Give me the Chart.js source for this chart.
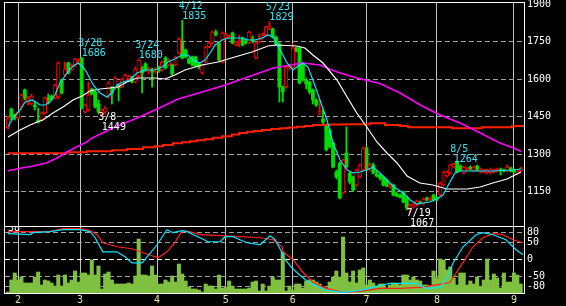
<!DOCTYPE html>
<html>
<head>
<meta charset="utf-8">
<script src="https://cdn.jsdelivr.net/npm/chart.js@4.4.1/dist/chart.umd.min.js"></script>
<style>
  html, body { margin: 0; padding: 0; background: #000; }
  #wrap { position: relative; width: 566px; height: 306px; overflow: hidden; background: #000; }
  #main { position: absolute; left: 0; top: 0; z-index: 2; }
  #sub { position: absolute; left: 0; top: 226px; z-index: 1; }
</style>
</head>
<body>
<div id="wrap">
  <canvas id="sub" width="566" height="80"></canvas>
  <canvas id="main" width="566" height="232"></canvas>
</div>
<script>
// month gridlines (trading-day index) and their labels
const monthStarts = [3, 21.5, 44.5, 65, 85, 107, 128, 151];
const monthLabels = ['2', '3', '4', '5', '6', '7', '8', '9'];
const priceTicks = [1150, 1300, 1450, 1600, 1750, 1900];
const rciTicks = [-80, -50, 0, 50, 80];

// daily candles
const opens = [1404,1480,1456,1444,1488,1556,1504,1500,1496,1436, 1436,1464,1524,1532,1524,1528,1596,1616,1664,1636,
  1656,1668,1684,1468,1476,1560,1548,1500,1456,1468, 1528,1564,1564,1576,1568,1588,1600,1608,1588,1612,
  1640,1660,1628,1636,1628,1648,1636,1684,1656,1656, 1656,1704,1748,1716,1680,1688,1688,1660,1624,1668,
  1728,1744,1788,1744,1668,1764,1764,1784,1736,1744, 1764,1752,1744,1760,1684,1748,1764,1776,1800,1800,
  1768,1740,1568,1568,1644,1648,1724,1724,1660,1596, 1588,1556,1516,1460,1440,1416,1396,1344,1228,1264,
  1144,1304,1224,1208,1176,1208,1236,1324,1236,1256, 1220,1216,1208,1196,1168,1176,1140,1136,1148,1124,
  1076,1088,1096,1108,1100,1124,1116,1136,1124,1136, 1176,1212,1224,1248,1268,1252,1224,1236,1248,1232,
  1252,1228,1228,1224,1224,1228,1232,1240,1236,1232, 1244,1236,1220,1232];
const highs = [1452,1484,1460,1472,1540,1560,1530,1540,1510,1484, 1468,1528,1540,1536,1580,1668,1600,1668,1668,1660,
  1684,1682,1686,1500,1588,1564,1552,1516,1480,1490, 1590,1570,1610,1580,1604,1620,1616,1612,1648,1680,
  1650,1666,1648,1644,1646,1652,1672,1690,1680,1660, 1692,1764,1835,1720,1684,1692,1692,1664,1660,1732,
  1750,1792,1796,1748,1788,1784,1776,1788,1752,1776, 1768,1760,1792,1772,1748,1780,1784,1812,1829,1804,
  1772,1748,1572,1652,1660,1740,1728,1728,1664,1604, 1592,1560,1520,1520,1480,1420,1400,1348,1236,1268,
  1280,1408,1228,1212,1240,1260,1328,1328,1264,1264, 1232,1220,1212,1200,1184,1180,1148,1140,1152,1128,
  1100,1104,1116,1112,1124,1128,1128,1140,1128,1188, 1232,1232,1260,1264,1272,1256,1252,1248,1252,1252,
  1256,1244,1240,1240,1244,1240,1244,1244,1240,1256, 1248,1240,1236,1248];
const lows = [1400,1436,1436,1440,1484,1516,1496,1496,1476,1424, 1432,1460,1500,1516,1520,1520,1540,1612,1620,1632,
  1650,1660,1480,1464,1472,1536,1484,1460,1449,1460, 1524,1500,1560,1512,1564,1584,1596,1584,1584,1608,
  1544,1630,1620,1568,1622,1626,1632,1640,1652,1614, 1652,1700,1680,1684,1660,1652,1648,1640,1620,1664,
  1724,1740,1772,1672,1664,1760,1760,1740,1732,1728, 1732,1740,1740,1744,1680,1744,1760,1772,1796,1764,
  1736,1508,1508,1564,1636,1644,1708,1580,1592,1560, 1540,1500,1490,1456,1420,1312,1324,1244,1200,1120,
  1140,1244,1180,1150,1172,1204,1232,1236,1232,1220, 1208,1196,1172,1168,1164,1132,1128,1124,1104,1076,
  1067,1084,1092,1100,1096,1112,1112,1112,1112,1132, 1172,1208,1220,1244,1224,1232,1220,1232,1236,1228,
  1232,1224,1224,1220,1220,1224,1228,1216,1228,1228, 1228,1224,1216,1228];
const closes = [1444,1448,1444,1468,1536,1524,1524,1532,1488,1428, 1464,1524,1516,1520,1576,1664,1544,1640,1624,1656,
  1680,1676,1484,1496,1536,1540,1488,1468,1476,1484, 1584,1544,1604,1564,1600,1616,1612,1588,1640,1676,
  1624,1636,1640,1628,1640,1632,1668,1644,1676,1620, 1688,1760,1684,1688,1664,1656,1652,1648,1656,1728,
  1744,1788,1776,1676,1784,1776,1772,1744,1748,1752, 1736,1744,1788,1752,1744,1760,1776,1808,1812,1768,
  1740,1568,1548,1648,1652,1724,1712,1584,1600,1580, 1548,1516,1496,1472,1428,1316,1328,1248,1208,1124,
  1276,1248,1188,1156,1236,1256,1324,1240,1256,1224, 1212,1204,1176,1172,1176,1136,1132,1128,1108,1084,
  1096,1100,1112,1104,1120,1116,1124,1116,1120,1184, 1228,1228,1256,1260,1228,1236,1248,1244,1240,1248,
  1236,1240,1236,1236,1240,1236,1240,1236,1232,1248, 1232,1228,1232,1244];
const volumes = [1,13,20,13,16,10,10,10,16,21, 8,13,12,10,7,18,7,18,10,13, 22,11,20,20,18,33,18,27,4,19,
  21,13,9,9,9,9,10,9,17,54, 18,18,17,27,18,9,9,13,11,17, 11,29,19,12,6,4,4,3,1,9,
  7,7,4,18,5,6,12,7,4,4, 4,4,5,11,12,2,9,2,7,16, 13,13,41,2,7,3,9,9,5,12,
  13,13,11,9,6,5,11,16,22,16, 56,20,11,22,10,23,25,8,13,10, 6,9,9,5,8,10,9,8,18,18,
  13,16,13,12,8,8,6,22,15,34, 33,23,26,15,8,20,20,8,12,9, 16,6,13,34,13,19,15,5,20,11,
  11,20,18,9];

// moving averages: [day index, price]
const maShort = [[0,1410],[1.5,1444],[3.6,1476],[5.1,1508],[7.2,1516],[8.7,1504],[9.5,1496],[11,1496],[12.5,1508],[14,1536],
  [15.5,1584],[17.6,1624],[19.1,1648],[20.9,1664],[22.4,1648],[23.6,1624],[25.4,1576],[27.5,1544],[29.5,1528],[31,1544],
  [32.5,1576],[34.3,1588],[36.4,1596],[38.5,1624],[40.9,1636],[43.9,1636],[46,1648],[47.7,1668],[49.8,1680],[51.9,1696],
  [53.7,1696],[55.2,1676],[57.3,1664],[58.8,1676],[60.3,1704],[61.8,1736],[63.9,1756],[65.7,1764],[67.7,1764],[69.8,1764],
  [71.6,1756],[73.7,1756],[75.8,1764],[77.6,1776],[79.1,1768],[81.2,1716],[83.3,1664],[85,1636],[86.2,1648],[88,1664],
  [89.5,1648],[91,1596],[93.1,1516],[95.2,1436],[97,1344],[99.1,1276],[101.2,1236],[103,1224],[105,1228],[107.1,1236],
  [108.9,1248],[111,1224],[113.1,1196],[114.9,1172],[117,1152],[119.1,1130],[120,1116],[122.1,1100],[123.8,1104],[125.9,1108],
  [128,1120],[129.8,1136],[131.9,1188],[133.4,1224],[134.9,1232],[138.8,1232],[144.7,1232],[150.7,1236],[153.1,1240]];
const maMid = [[0,1368],[3.6,1396],[6.6,1416],[8.7,1428],[10.4,1436],[13.4,1464],[16.4,1488],[19.4,1516],[22.1,1532],[24.5,1552],
  [27.5,1560],[30.4,1564],[32.8,1568],[35.5,1588],[38.5,1604],[43.9,1604],[46.9,1600],[49.8,1616],[52.8,1636],[57.9,1656],
  [62.7,1668],[67.7,1688],[72.8,1708],[77.6,1732],[80,1736],[86.2,1732],[88.6,1724],[91,1696],[94,1664],[98.2,1596],
  [101.2,1528],[104.1,1464],[107.1,1408],[110.1,1348],[113.1,1304],[116.1,1264],[119.1,1212],[122.9,1184],[126.8,1176],[131,1160],
  [137,1160],[140.9,1168],[144.7,1184],[148.9,1200],[153.1,1228]];
const maLong = [[0,1233],[3.6,1243],[7.5,1252],[11.6,1265],[14.6,1284],[16.1,1296],[17.6,1309],[20.6,1329],[23.6,1349],[25.1,1364],
  [31.3,1404],[38.5,1444],[44.5,1480],[50.7,1520],[57.9,1548],[64.8,1576],[71.6,1608],[79.1,1644],[84.2,1656],[88,1664],
  [93.1,1656],[98.2,1628],[104.1,1604],[111,1582],[117,1544],[123,1496],[128.9,1456],[134.9,1424],[140.9,1384],[146.8,1344],
  [151.3,1322],[153.1,1310]];
const maSlow = [[0,1303],[17.6,1307],[23.6,1311],[31,1315],[35.5,1320],[40.3,1327],[43.9,1331],[46.3,1336],[49.2,1343],[51.9,1347],
  [54.3,1351],[56.4,1355],[58.8,1359],[61.2,1365],[63.9,1371],[66.8,1378],[69,1384],[71.3,1389],[73.5,1392],[75.8,1396],
  [78.5,1400],[81.2,1403],[83.7,1406],[86.2,1409],[88.6,1412],[91,1416],[96,1418],[101.2,1419],[108,1423],[112.5,1416],
  [117,1412],[119.4,1407],[132.5,1403],[141.4,1407],[150.4,1412],[154,1412]];

// oscillator lines (lower panel)
const rciShort = [[0,77],[6.6,74],[7.5,80],[12.5,83],[16.4,89],[21.5,89],[24.5,83],[26,65],[28.3,23],[32.5,23],
  [34.9,8],[37,-10],[40,-10],[41.5,8],[44.5,44],[47.4,89],[49.2,80],[51.9,86],[53.4,83],[57.3,65],
  [59.7,53],[63.3,53],[64.8,68],[67.1,68],[69.2,59],[71.3,50],[75.2,44],[78.2,71],[79.7,59],[81.8,20],
  [82.1,8],[84.5,-23],[87.1,-47],[90.1,-71],[94.9,-92],[100,-98],[105,-92],[109.8,-80],[114,-71],[121.8,-71],
  [124.7,-86],[128.9,-83],[130.7,-62],[132.8,-11],[135.8,38],[139.7,74],[141.7,80],[144.7,74],[148.6,59],[151.6,29],
  [153.7,14]];
const rciLong = [[0,83],[7.5,83],[12.5,83],[16.4,92],[21.5,92],[24.5,86],[26.6,74],[28.3,50],[32.5,38],[37,32],
  [40.3,20],[44.8,5],[47.4,23],[49.8,50],[51.9,86],[54.3,83],[57.3,74],[63.3,71],[69.2,68],[75.2,65],
  [79.1,59],[81.8,38],[82.1,23],[85,0],[88,-38],[91,-68],[94.9,-86],[100,-98],[105,-95],[111,-86],
  [117,-86],[122.9,-83],[128.9,-74],[131.9,-68],[134.9,-23],[138.8,38],[141.7,65],[144.7,77],[147.7,74],[150.7,59],
  [153.7,50]];

// high / low annotations
const marks = [
  { i: 22, date: '3/28', value: 1686, kind: 'high' },
  { i: 28, date: '3/8', value: 1449, kind: 'low' },
  { i: 39, date: '3/24', value: 1680, kind: 'high' },
  { i: 52, date: '4/12', value: 1835, kind: 'high' },
  { i: 78, date: '5/23', value: 1829, kind: 'high' },
  { i: 120, date: '7/19', value: 1067, kind: 'low' },
  { i: 133, date: '8/5', value: 1264, kind: 'high' }
];

const UP = '#ff0000', DOWN = '#00dc00';
const FONT = 'DejaVu Sans Mono';
const xMin = -0.9, xMax = 154;
const idx = closes.map((c, i) => i);
const up = i => closes[i] >= opens[i];
const upIdx = idx.filter(up);
const downIdx = idx.filter(i => !up(i));
const pts = arr => arr.map(p => ({ x: p[0], y: p[1] }));

function noPad(s) { s.paddingTop = 0; s.paddingBottom = 0; s.paddingLeft = 0; s.paddingRight = 0; }

const frame = {
  id: 'frame',
  beforeDatasetsDraw(chart) {
    const { ctx, chartArea: a } = chart;
    ctx.save();
    ctx.strokeStyle = '#fff';
    ctx.lineWidth = 1;
    ctx.strokeRect(a.left - 0.5, a.top - 0.5, a.right - a.left + 1, a.bottom - a.top + 1);
    ctx.restore();
  }
};

const markLabels = {
  id: 'markLabels',
  afterDraw(chart) {
    const { ctx, scales: { x, y } } = chart;
    ctx.save();
    ctx.font = '10px "' + FONT + '"';
    ctx.textBaseline = 'top';
    marks.forEach(m => {
      const px = x.getPixelForValue(m.i);
      const py = y.getPixelForValue(m.value);
      if (m.kind === 'high') {
        ctx.fillStyle = '#3ce4f4';
        ctx.fillText(m.date, px - 3.5, py - 19);
        ctx.fillText(String(m.value), px, py - 9);
      } else {
        ctx.fillStyle = '#ffffff';
        ctx.fillText(m.date, px - 3.5, py - 4);
        ctx.fillText(String(m.value), px, py + 6);
      }
    });
    ctx.restore();
  }
};

const cornerText = {
  id: 'cornerText',
  afterDatasetsDraw(chart) {
    const { ctx, chartArea: a } = chart;
    ctx.save();
    ctx.beginPath();
    ctx.rect(a.left, a.top, a.right - a.left, a.bottom - a.top);
    ctx.clip();
    ctx.font = '10px "' + FONT + '"';
    ctx.fillStyle = '#fff';
    ctx.textBaseline = 'middle';
    ctx.fillText('38', a.left + 3, a.top + 2);
    ctx.restore();
  }
};

const lineDs = (data, color, width, extra) => Object.assign({
  type: 'line', data: pts(data), borderColor: color, borderWidth: width,
  pointRadius: 0, fill: false, tension: 0
}, extra || {});

new Chart(document.getElementById('main'), {
  type: 'line',
  data: {
    datasets: [
      lineDs(maSlow, '#ff2000', 2, { stepped: true, order: 4 }),
      lineDs(maLong, '#ff00ff', 1.5, { order: 3 }),
      lineDs(maMid, '#ffffff', 1.2, { order: 2 }),
      lineDs(maShort, '#00e8ff', 1.2, { order: 1 }),
      {
        type: 'bar', order: 7, grouped: false, barThickness: 1.2, borderWidth: 0,
        data: idx.map(i => ({ x: i, y: [lows[i], highs[i]] })),
        backgroundColor: idx.map(i => up(i) ? UP : DOWN)
      },
      {
        // falling days: filled green bodies
        type: 'bar', order: 6, grouped: false, barThickness: 3.2, minBarLength: 1, borderWidth: 0,
        data: downIdx.map(i => ({ x: i, y: [opens[i], closes[i]] })),
        backgroundColor: DOWN
      },
      {
        // rising days: hollow red bodies
        type: 'bar', order: 5, grouped: false, barThickness: 3.6, minBarLength: 1, borderSkipped: false,
        data: upIdx.map(i => ({ x: i, y: [opens[i], closes[i]] })),
        backgroundColor: '#000000', borderColor: UP, borderWidth: 1
      }
    ]
  },
  options: {
    responsive: false, animation: false, devicePixelRatio: 1,
    layout: { padding: { left: 5, top: 3, right: 0, bottom: 6 } },
    plugins: { legend: { display: false }, tooltip: { enabled: false } },
    scales: {
      x: {
        type: 'linear', min: xMin, max: xMax, offset: false,
        afterBuildTicks: s => { s.ticks = monthStarts.map(v => ({ value: v })); },
        afterFit: s => { s.height = 0; noPad(s); },
        ticks: { display: false },
        grid: { color: '#c0c0c0', drawTicks: false, offset: false },
        border: { display: false }
      },
      y: {
        position: 'right', min: 1012, max: 1904,
        afterBuildTicks: s => { s.ticks = priceTicks.map(v => ({ value: v })); },
        afterFit: s => { s.width = 42; noPad(s); },
        ticks: { color: '#fff', font: { family: FONT, size: 10 }, padding: 3, callback: v => String(v) },
        grid: { color: c => (c.tick && c.tick.value === 1900) ? 'rgba(0,0,0,0)' : '#a0a0a0', drawTicks: false },
        border: { display: false, dash: [5, 3] }
      }
    }
  },
  plugins: [frame, markLabels]
});

new Chart(document.getElementById('sub'), {
  type: 'line',
  data: {
    datasets: [
      lineDs(rciShort, '#00e8ff', 1.2, { order: 1, yAxisID: 'y' }),
      lineDs(rciLong, '#ff2020', 1.2, { order: 2, yAxisID: 'y' }),
      {
        type: 'bar', order: 3, grouped: false, barThickness: 3.4, yAxisID: 'v',
        data: idx.map(i => ({ x: i, y: volumes[i] })),
        backgroundColor: '#80c040'
      }
    ]
  },
  options: {
    responsive: false, animation: false, devicePixelRatio: 1,
    layout: { padding: { left: 5, top: 0, right: 0, bottom: 0 } },
    plugins: { legend: { display: false }, tooltip: { enabled: false } },
    scales: {
      x: {
        type: 'linear', min: xMin, max: xMax, offset: false,
        afterBuildTicks: s => { s.ticks = monthStarts.map(v => ({ value: v })); },
        afterFit: s => { s.height = 13; noPad(s); },
        ticks: {
          color: '#e8e0a0', font: { family: FONT, size: 10 }, padding: 1,
          maxRotation: 0, autoSkip: false, callback: (v, i) => monthLabels[i]
        },
        grid: { color: '#c0c0c0', drawTicks: false, offset: false },
        border: { display: false }
      },
      y: {
        position: 'right', min: -100, max: 100,
        afterBuildTicks: s => { s.ticks = rciTicks.map(v => ({ value: v })); },
        afterFit: s => { s.width = 42; noPad(s); },
        ticks: { color: '#fff', font: { family: FONT, size: 10 }, padding: 3, callback: v => String(v) },
        grid: { color: c => (c.tick && c.tick.value === 0) ? '#ffffff' : '#a0a0a0', drawTicks: false },
        border: { display: false, dash: [5, 3] }
      },
      v: { position: 'left', display: false, min: 0, max: 67 }
    }
  },
  plugins: [frame, cornerText]
});
</script>
</body>
</html>
